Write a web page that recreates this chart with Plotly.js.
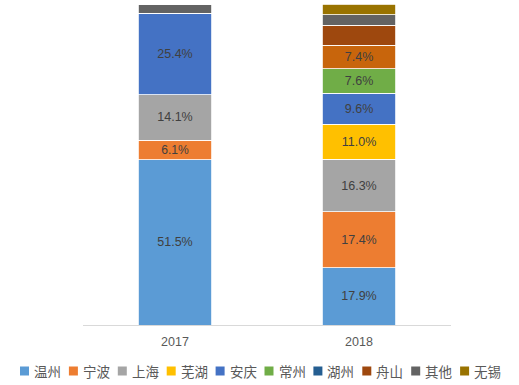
<!DOCTYPE html>
<html>
<head>
<meta charset="utf-8">
<script src="https://cdn.plot.ly/plotly-3.0.1.min.js"></script>
<style>html,body{margin:0;padding:0;background:#fff;}#chart{width:519px;height:385px;}</style>
</head>
<body>
<div id="chart"></div>
<script>
const years = ['2017', '2018'];
const seriesNames = ['温州', '宁波', '上海', '芜湖', '安庆', '常州', '湖州', '舟山', '其他', '无锡'];
const wenzhou = [51.5, 17.9];
const ningbo = [6.1, 17.4];
const shanghai = [14.1, 16.3];
const wuhu = [0, 11.0];
const anqing = [25.4, 9.6];
const changzhou = [0, 7.6];
const huzhou = [0, 7.4];
const zhoushan = [0, 6.2];
const qita = [2.9, 3.3];
const wuxi = [0, 3.3];
const showLabel = [
  [true, true], [true, true], [true, true], [false, true], [true, true],
  [false, true], [false, true], [false, false], [false, false], [false, false]
];
const colors = ['#5B9BD5', '#ED7D31', '#A5A5A5', '#FFC000', '#4472C4', '#70AD47', '#255E91', '#9E480E', '#636363', '#997300'];
const huzhouBarColor = '#C8650C';

const values = [wenzhou, ningbo, shanghai, wuhu, anqing, changzhou, huzhou, zhoushan, qita, wuxi];

const traces = values.map((v, i) => ({
  type: 'bar',
  name: seriesNames[i],
  x: years,
  y: v,
  text: v.map((val, j) => showLabel[i][j] ? val.toFixed(1) + '%' : ''),
  textposition: 'inside',
  insidetextanchor: 'middle',
  textangle: 0,
  textfont: {family: 'Liberation Sans, Arial, sans-serif', size: 12.5, color: '#404040'},
  hoverinfo: 'none',
  marker: {
    color: (i === 6) ? [colors[i], huzhouBarColor] : colors[i],
    line: {color: '#FFFFFF', width: 0.8}
  }
}));

// custom legend (annotations + squares) to mimic compact legend spacing
const plotL = 83, plotR = 451, plotT = 4, plotB = 325;
const pw = plotR - plotL, ph = plotB - plotT;
const px2x = p => (p - plotL) / pw;
const py2y = p => (plotB - p) / ph;
const legStart = 20, legStep = 48.9, legY = 371;
const shapes = [];
const annotations = [];
seriesNames.forEach((n, i) => {
  const x0 = legStart + i * legStep;
  shapes.push({
    type: 'rect', xref: 'paper', yref: 'paper',
    x0: px2x(x0), x1: px2x(x0 + 9), y0: py2y(legY + 4.5), y1: py2y(legY - 4.5),
    fillcolor: colors[i], line: {width: 0}
  });
  annotations.push({
    xref: 'paper', yref: 'paper', x: px2x(x0 + 12), y: py2y(legY),
    xanchor: 'left', yanchor: 'middle', showarrow: false,
    text: n,
    font: {family: 'Noto Sans CJK SC, sans-serif', size: 13.5, color: '#595959'}
  });
});

const layout = {
  width: 519, height: 385,
  margin: {l: plotL, r: 519 - plotR, t: plotT, b: 385 - plotB},
  barmode: 'stack',
  bargap: 0.6,
  showlegend: false,
  paper_bgcolor: '#FFFFFF',
  plot_bgcolor: '#FFFFFF',
  xaxis: {
    type: 'category',
    showline: true, linecolor: '#D9D9D9', linewidth: 1,
    ticks: '', showgrid: false, zeroline: false,
    tickfont: {family: 'Liberation Sans, Arial, sans-serif', size: 12.5, color: '#595959'},
    ticklabelstandoff: 5
  },
  yaxis: {
    range: [0, 100], visible: false, showgrid: false, zeroline: false
  },
  shapes: shapes,
  annotations: annotations
};

Plotly.newPlot('chart', traces, layout, {displayModeBar: false, staticPlot: true});
</script>
</body>
</html>
